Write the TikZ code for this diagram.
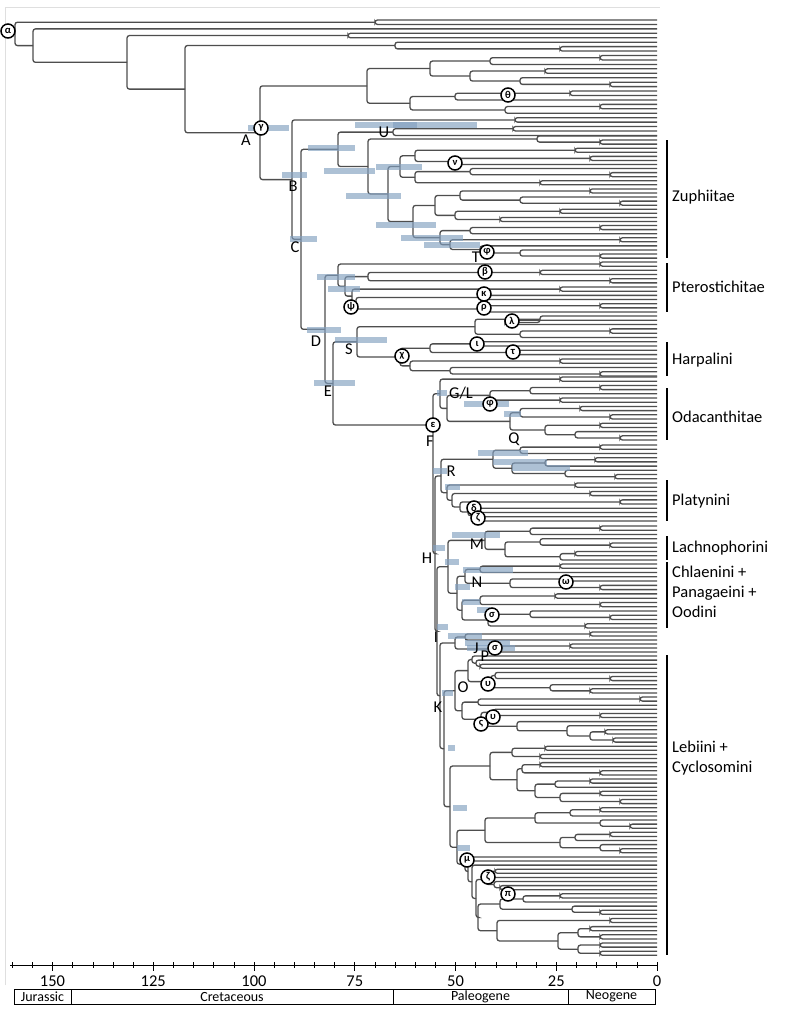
\documentclass[tikz,border=0pt]{standalone}
\usepackage{fontspec}
\setmainfont{Carlito}
\definecolor{treegray}{RGB}{78,78,78}
\definecolor{hpdblue}{RGB}{130,160,192}
% ---------- tree engine ----------
\def\Tip{\xdef\rety{\curY}\xdef\retx{657}\xdef\curY{\fpeval{\curY+\spc}}}
\def\TipAt#1#2{\xdef\curY{#1}\xdef\spc{#2}}
\def\NdCore#1#2#3#4#5{\begingroup
  #4\edef\ya{\rety}\edef\xa{\retx}%
  #5\edef\yb{\rety}\edef\xb{\retx}%
  \edef\xx{#2}%
  \def\tmp{#3}%
  \ifx\tmp\empty\edef\ym{\fpeval{(\ya+\yb)/2}}\else\edef\ym{#3}\fi
  \draw[br] (\xa,\ya) -- (\xx,\ya) -- (\xx,\yb) -- (\xb,\yb);
  \def\tmp{#1}\ifx\tmp\empty\else\coordinate (#1) at (\xx,\ym);\fi
  \xdef\rety{\ym}\xdef\retx{\xx}%
  \endgroup}
\def\Nd#1#2#3#4{\NdCore{#1}{#2}{}{#3}{#4}}
\def\NdY#1#2#3#4#5{\NdCore{#1}{#2}{#3}{#4}{#5}}
\def\Pr#1{\Nd{}{#1}{\Tip}{\Tip}}
% ---------- clades ----------
\def\clOfiveA{\Nd{}{430}{\Nd{}{490}{\Pr{600}}{\Tip}}{\Nd{}{470}{\Pr{545}}{\Nd{}{520}{\Tip}{\Pr{610}}}}}
\def\clOfiveB{\Nd{}{410}{\Nd{}{455}{\Pr{570}}{\Tip}}{\Nd{}{505}{\Pr{600}}{\Tip}}}
\def\clOfive{\Nd{o5}{367}{\clOfiveA}{\clOfiveB}}
\def\clU{\Nd{u}{393}{\Pr{513}}{\Tip}}
\def\clZone{\TipAt{136}{4.07}\Nd{}{537}{\Tip}{\Pr{600}}}
\def\clZthree{\Nd{z3}{400}{\Nd{}{415}{\Pr{575}}{\Nd{}{452}{\Pr{590}}{\Tip}}}{\Nd{}{415}{\Nd{}{470}{\Tip}{\Pr{610}}}{\Pr{540}}}}
\def\clZfourA{\Nd{}{435}{\Nd{}{460}{\Pr{590}}{\Nd{}{520}{\Tip}{\Pr{620}}}}{\Nd{}{455}{\Pr{560}}{\Nd{}{500}{\Tip}{\Tip}}}}
\def\clZfourB{\Nd{}{440}{\Nd{}{470}{\Pr{600}}{\Tip}}{\Nd{}{450}{\Pr{620}}{\Nd{}{480}{\Tip}{\Nd{}{520}{\Tip}{\Pr{600}}}}}}
\def\clZfour{\Nd{z4}{413}{\clZfourA}{\clZfourB}}
\def\clZtwo{\Nd{z2}{388}{\clZthree}{\clZfour}}
\def\clZm{\Nd{zm}{368}{\clZone}{\clZtwo}}
\def\clZt{\Nd{zt}{338}{\clU}{\clZm}}
\def\clPbeta{\Nd{}{368}{\Nd{}{540}{\Tip}{\Tip}}{\Nd{}{610}{\Tip}{\Tip}}}
\def\clPkappa{\Nd{}{352}{\Pr{560}}{\Nd{}{356}{\Nd{}{484}{\Tip}{\Tip}}{\Nd{}{486}{\Pr{600}}{\Tip}}}}
\def\clPt{\Nd{p0}{338}{\TipAt{262}{4.17}\Pr{600}}{\Nd{p2}{345}{\clPbeta}{\clPkappa}}}
\def\clSone{\Nd{}{475}{\Nd{}{540}{\Tip}{\Nd{}{505}{\Tip}{\Tip}}}{\Nd{}{520}{\Pr{610}}{\Tip}}}
\def\clHp{\Nd{}{400}{\Nd{}{430}{\Nd{}{478}{\Tip}{\Tip}}{\Nd{}{510}{\Tip}{\Tip}}}{\Nd{}{410}{\Pr{560}}{\Nd{}{450}{\Tip}{\Pr{600}}}}}
\def\clS{\Nd{s}{357}{\TipAt{316}{4.29}\clSone}{\clHp}}
\def\clOd{\Nd{}{447}{\Nd{}{490}{\Nd{}{530}{\Pr{600}}{\Tip}}{\Nd{}{560}{\Tip}{\Tip}}}{\Nd{}{510}{\Nd{}{520}{\Pr{580}}{\Pr{610}}}{\Nd{}{545}{\Nd{}{600}{\Tip}{\Tip}}{\Nd{}{575}{\Tip}{\Pr{620}}}}}}
\def\clGL{\Nd{gl}{440}{\TipAt{377}{4.2}\Pr{560}}{\clOd}}
\def\clQ{\Nd{q}{493}{\Nd{}{520}{\Pr{600}}{\Tip}}{\Nd{}{512}{\Nd{}{545}{\Pr{595}}{\Tip}}{\Nd{}{565}{\Tip}{\Pr{615}}}}}
\def\clPl{\Nd{}{447}{\Pr{575}}{\Nd{}{452}{\Pr{590}}{\Nd{}{460}{\Pr{620}}{\Nd{}{468}{\Tip}{\Nd{}{474}{\Tip}{\Nd{}{480}{\Tip}{\Tip}}}}}}}
\def\clR{\Nd{r}{441}{\TipAt{445}{4.22}\clQ}{\clPl}}
\def\clM{\Nd{m}{485}{\TipAt{526}{4.25}\Nd{}{530}{\Pr{600}}{\Tip}}{\Nd{}{505}{\Nd{}{540}{\Tip}{\Pr{610}}}{\Nd{}{560}{\Nd{}{575}{\Tip}{\Tip}}{\Tip}}}}
\def\clN{\Nd{n}{457}{\TipAt{564}{4.27}\Nd{}{465}{\Nd{}{480}{\Pr{560}}{\Tip}}{\Nd{}{510}{\Nd{}{566}{\Tip}{\Tip}}{\Nd{}{600}{\Tip}{\Tip}}}}{\Nd{}{462}{\Nd{}{480}{\Pr{555}}{\Nd{}{600}{\Tip}{\Tip}}}{\Nd{}{488}{\Nd{}{530}{\Tip}{\Pr{610}}}{\Pr{585}}}}}
\def\clH{\Nd{hp}{448}{\clM}{\clN}}
\def\clJ{\Nd{j}{455}{\TipAt{632}{4}\Nd{}{465}{\Pr{590}}{\Tip}}{\Nd{}{495}{\Pr{570}}{\Tip}}}
\def\clOone{\Nd{}{468}{\Nd{}{472}{\Tip}{\Nd{}{476}{\Tip}{\Nd{}{480}{\Tip}{\Tip}}}}{\Nd{}{491}{\Nd{}{495}{\Tip}{\Pr{610}}}{\Nd{}{550}{\Tip}{\Pr{590}}}}}
\def\clOtwo{\Nd{}{462}{\Nd{}{478}{\Pr{640}}{\Tip}}{\Nd{}{481}{\Nd{}{493}{\Tip}{\Pr{600}}}{\Nd{}{517}{\Tip}{\Nd{}{567}{\Tip}{\Nd{}{590}{\Pr{605}}{\Pr{613}}}}}}}
\def\clO{\Nd{o}{455}{\TipAt{656}{4.1}\clOone}{\clOtwo}}
\def\clLone{\Nd{}{490}{\Nd{}{512}{\Pr{545}}{\Pr{540}}}{\Nd{}{517}{\Nd{}{522}{\Pr{540}}{\Pr{600}}}{\Nd{}{535}{\Nd{}{555}{\Pr{590}}{\Tip}}{\Nd{}{560}{\Pr{600}}{\Pr{620}}}}}}
\def\clLtwo{\Nd{}{485}{\Nd{}{535}{\Nd{}{570}{\Pr{600}}{\Tip}}{\Nd{}{600}{\Tip}{\Pr{630}}}}{\Nd{}{560}{\Nd{}{575}{\Pr{610}}{\Tip}}{\Nd{}{600}{\Tip}{\Pr{620}}}}}
\def\clLX{\Nd{}{486}{\Nd{}{490}{\Pr{495}}{\Tip}}{\Nd{}{494}{\Tip}{\Pr{500}}}}
\def\clLY{\Nd{}{478}{\Nd{}{500}{\Nd{}{523}{\Pr{560}}{\Tip}}{\Nd{}{572}{\Tip}{\Pr{600}}}}{\Nd{}{497}{\Pr{610}}{\Nd{}{558}{\Nd{}{578}{\Pr{590}}{\Pr{600}}}{\Nd{}{578}{\Pr{600}}{\Pr{600}}}}}}
\def\clLthree{\Nd{mu}{465}{\Tip}{\Nd{}{468}{\Tip}{\Nd{}{472}{\Tip}{\Nd{}{476}{\clLX}{\clLY}}}}}
\def\clKthree{\Nd{k3}{457}{\clLtwo}{\clLthree}}
\def\clKtwo{\Nd{k2}{450}{\clLone}{\clKthree}}
\def\clK{\Nd{k}{444}{\clO}{\clKtwo}}
\def\clXthree{\Nd{i}{440}{\clJ}{\clK}}
\def\clXtwo{\Nd{h}{437}{\clH}{\clXthree}}
\def\clXone{\Nd{}{435}{\clR}{\clXtwo}}
\def\clF{\NdY{f}{433}{425}{\clGL}{\clXone}}
\def\clE{\Nd{e}{333}{\clS}{\clF}}
\def\clD{\Nd{d}{325}{\clPt}{\clE}}
\def\clC{\Nd{c}{301}{\clZt}{\clD}}
\def\clB{\Nd{b}{292}{\Pr{515}}{\clC}}
\def\clA{\Nd{a}{260}{\clOfive}{\clB}}
\def\clNthree{\Nd{}{185}{\Nd{}{395}{\Tip}{\Pr{560}}}{\clA}}
\def\clNtwo{\Nd{}{127}{\Pr{348}}{\clNthree}}
\def\clNone{\Nd{}{33}{\Tip}{\clNtwo}}
\def\clRoot{\Nd{root}{15}{\TipAt{20}{4.44}\Pr{375}}{\clNone}}
\begin{document}
\begin{tikzpicture}[x=1pt,y=-1pt,
  br/.style={draw=treegray,line width=1.3pt,rounded corners=2.5pt},
  hpd/.style={fill=hpdblue,opacity=0.65},
  circ/.style={circle,draw=black,line width=1.5pt,fill=white,inner sep=0pt,minimum size=14pt,font=\fontsize{10.5}{10.5}\selectfont\bfseries},
  lab/.style={font=\fontsize{16.5}{16.5}\selectfont,inner sep=0pt},
  cladelab/.style={font=\fontsize{16.5}{20}\selectfont,anchor=west,align=left,inner sep=0pt},
  cladebar/.style={draw=black,line width=1.6pt},
  axlab/.style={font=\fontsize{16.5}{16.5}\selectfont,inner sep=0pt},
  perlab/.style={font=\fontsize{14}{14}\selectfont,inner sep=0pt}]
\useasboundingbox (0,0) rectangle (785,1015);
\fill[white] (0,0) rectangle (785,1015);
\draw[gray!25,line width=0.8pt] (5,985) -- (5,7) -- (660,7);
% tree
\clRoot
% HPD bars
\foreach \xa/\xb/\yy in {248/289/128,282/307/175,355/417/125,393/477/125,308/355/148,324/375/171,376/422/167,346/401/196,376/436/225,401/463/238,424/480/245,290/317/239,317/355/277,328/360/289,307/341/330,335/387/340,314/355/383,437/447/393,464/509/404,504/521/414,433/447/471,478/528/453,493/547/462,512/570/468,445/460/487,433/445/548,445/459/562,452/500/535,463/513/570,455/470/587,462/480/602,477/490/610,437/448/627,448/482/636,465/510/643,467/515/648,442/453/693,448/455/748,453/467/808,457/470/848}
  {\fill[hpd] (\xa,\yy-3) rectangle (\xb,\yy+3);}
% letter labels
\node[lab] (lA) at (246,140) {A};
\node[lab] (lB) at (293,186) {B};
\node[lab] (lC) at (295,247) {C};
\node[lab] (lD) at (316,341) {D};
\node[lab] (lE) at (328,391) {E};
\node[lab] (lF) at (430,441) {F};
\node[lab] (lGL) at (461,393) {G/L};
\node[lab] (lH) at (427,558) {H};
\node[lab] (lI) at (436,637) {I};
\node[lab] (lJ) at (476,648) {J};
\node[lab] (lP) at (485,656) {P};
\node[lab] (lK) at (438,707) {K};
\node[lab] (lO) at (463,687) {O};
\node[lab] (lM) at (477,544) {M};
\node[lab] (lN) at (477,582) {N};
\node[lab] (lQ) at (514,439) {Q};
\node[lab] (lR) at (451,471) {R};
\node[lab] (lS) at (349,349) {S};
\node[lab] (lU) at (384,132) {U};
\node[lab] (lT) at (476,257) {T};
% circles
\foreach \nm/\px/\py/\g in {ca/8/31/α,cth/508/95/θ,cg/261/128/γ,cnu/455/163/ν,cphi/487/252/φ,cbe/485/272/β,cka/484/294/κ,crho/484/308/ρ,cpsi/351/307/ψ,cla/512/321/λ,cio/477/344/ι,cta/513/352/τ,cchi/402/356/χ,cep/433/425/ε,cphb/490/404/φ,cde/474/508/δ,cze/478/518/ζ,com/566/582/ω,csi/492/615/σ,csib/495/648/σ,cup/488/684/υ,cvs/481/724/ς,cupb/493/717/υ,cmu/467/860/μ,czeb/488/877/ζ,cpi/508/894/π}
  {\node[circ] (\nm) at (\px,\py) {\g};}
% clade bars and names
\foreach \ya/\yb in {140/258,263/312,342/376,388/440,480/521,536/560,562/628,655/955}
  {\draw[cladebar] (667,\ya) -- (667,\yb);}
\node[cladelab] (tZ) at (672,197) {Zuphiitae};
\node[cladelab] (tP) at (672,287) {Pterostichitae};
\node[cladelab] (tH) at (672,360) {Harpalini};
\node[cladelab] (tO) at (672,417) {Odacanthitae};
\node[cladelab] (tPl) at (672,501) {Platynini};
\node[cladelab] (tL) at (672,548) {Lachnophorini};
\node[cladelab] (tC) at (672,592) {Chlaenini +\\Panagaeini +\\Oodini};
\node[cladelab] (tLe) at (672,758) {Lebiini +\\Cyclosomini};
% time axis
\draw[black,line width=0.9pt] (10,965) -- (657,965);
\foreach \a in {0,5,...,160} {\draw[black,line width=0.6pt] ({657-4.03*\a},962) -- ({657-4.03*\a},968);}
\foreach \a in {0,25,...,150} {\draw[black,line width=0.8pt] ({657-4.03*\a},962) -- ({657-4.03*\a},971);
  \node[axlab] at ({657-4.03*\a},981) {\a};}
\draw[black,line width=1pt] (14,989) rectangle (655,1004);
\foreach \xx in {71,393,568} {\draw[black,line width=1pt] (\xx,989) -- (\xx,1004);}
\node[perlab] at (42.5,996.5) {Jurassic};
\node[perlab] at (232,996.5) {Cretaceous};
\node[perlab] at (480.5,996.5) {Paleogene};
\node[perlab] at (611.5,996.5) {Neogene};
\end{tikzpicture}
\end{document}
